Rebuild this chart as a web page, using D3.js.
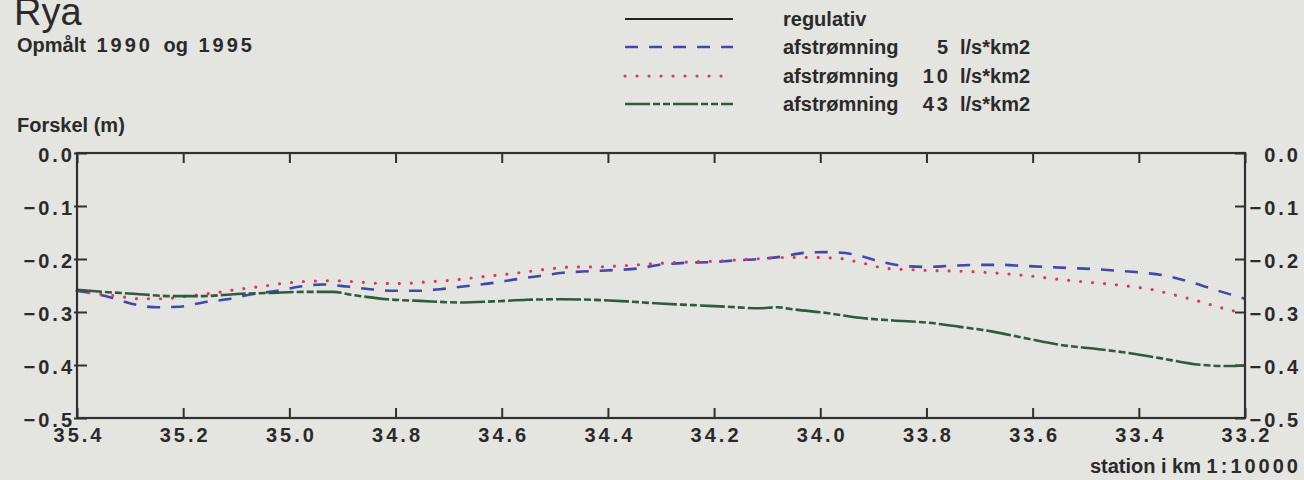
<!DOCTYPE html>
<html><head><meta charset="utf-8">
<script src="https://cdn.jsdelivr.net/npm/d3@7"></script>
<style>
html,body{margin:0;padding:0;background:#e4e4e1;}
svg{display:block;font-family:"Liberation Sans",Arial,sans-serif;}
</style></head><body>
<svg id="c" width="1304" height="480"></svg>
<script>
const titleText = "Rya";
const subtitleParts = ["Opmålt ", "1990", " og ", "1995"];
const yAxisTitle = "Forskel (m)";
const xAxisTitleWord = "station i km ";
const xAxisTitleScale = "1:10000";
const xTicks = [35.4,35.2,35.0,34.8,34.6,34.4,34.2,34.0,33.8,33.6,33.4,33.2];
const xTickLabels = ["35.4","35.2","35.0","34.8","34.6","34.4","34.2","34.0","33.8","33.6","33.4","33.2"];
const yTicks = [0,-0.1,-0.2,-0.3,-0.4,-0.5];
const yTickLabels = ["0.0","\u22120.1","\u22120.2","\u22120.3","\u22120.4","\u22120.5"];
const legendNames = ["regulativ","afstrømning","afstrømning","afstrømning"];
const legendNumbers = ["","5","10","43"];
const legendUnits = ["","l/s*km2","l/s*km2","l/s*km2"];

const regulativ = [[35.4,0],[33.2,0]];
const afstr5 = [[35.400,-0.260],[35.338,-0.272],[35.295,-0.285],[35.249,-0.291],[35.206,-0.290],[35.163,-0.282],[35.117,-0.276],[35.074,-0.267],[35.023,-0.260],[34.980,-0.252],[34.937,-0.248],[34.891,-0.252],[34.848,-0.257],[34.805,-0.260],[34.760,-0.260],[34.716,-0.257],[34.673,-0.252],[34.616,-0.245],[34.571,-0.238],[34.528,-0.232],[34.485,-0.226],[34.434,-0.223],[34.390,-0.221],[34.345,-0.218],[34.302,-0.211],[34.251,-0.207],[34.208,-0.206],[34.164,-0.203],[34.114,-0.200],[34.076,-0.196],[34.025,-0.188],[33.987,-0.187],[33.938,-0.191],[33.890,-0.204],[33.844,-0.213],[33.799,-0.215],[33.756,-0.213],[33.705,-0.211],[33.661,-0.211],[33.618,-0.213],[33.573,-0.215],[33.530,-0.217],[33.486,-0.219],[33.441,-0.222],[33.392,-0.226],[33.347,-0.232],[33.304,-0.243],[33.260,-0.257],[33.200,-0.275]];
const afstr10 = [[35.400,-0.260],[35.325,-0.270],[35.281,-0.275],[35.238,-0.275],[35.193,-0.270],[35.149,-0.265],[35.102,-0.258],[35.055,-0.252],[35.012,-0.246],[34.965,-0.242],[34.920,-0.241],[34.873,-0.243],[34.829,-0.246],[34.786,-0.246],[34.739,-0.243],[34.694,-0.240],[34.650,-0.235],[34.603,-0.230],[34.560,-0.225],[34.513,-0.219],[34.466,-0.215],[34.421,-0.215],[34.377,-0.213],[34.330,-0.210],[34.283,-0.207],[34.198,-0.204],[34.142,-0.201],[34.057,-0.197],[34.010,-0.197],[33.963,-0.199],[33.919,-0.208],[33.874,-0.218],[33.831,-0.220],[33.784,-0.222],[33.737,-0.223],[33.693,-0.225],[33.648,-0.228],[33.605,-0.232],[33.562,-0.237],[33.515,-0.242],[33.469,-0.246],[33.422,-0.251],[33.379,-0.257],[33.332,-0.268],[33.289,-0.279],[33.241,-0.293],[33.212,-0.300]];
const afstr43 = [[35.400,-0.258],[35.351,-0.262],[35.287,-0.266],[35.225,-0.270],[35.163,-0.270],[35.099,-0.266],[35.036,-0.264],[34.974,-0.262],[34.918,-0.262],[34.880,-0.268],[34.816,-0.276],[34.754,-0.279],[34.679,-0.282],[34.616,-0.280],[34.552,-0.277],[34.490,-0.276],[34.428,-0.277],[34.364,-0.280],[34.302,-0.284],[34.240,-0.287],[34.176,-0.290],[34.114,-0.293],[34.081,-0.291],[34.051,-0.295],[33.987,-0.302],[33.925,-0.311],[33.863,-0.316],[33.799,-0.320],[33.737,-0.328],[33.675,-0.337],[33.611,-0.350],[33.548,-0.362],[33.486,-0.369],[33.422,-0.377],[33.360,-0.387],[33.298,-0.398],[33.234,-0.402],[33.200,-0.401]];

const series = [
  {data: regulativ, color:"#222222", width:2.2, dash:null, cap:"butt"},
  {data: afstr5, color:"#4048a8", width:2.6, dash:"13 11", cap:"butt"},
  {data: afstr10, color:"#e0345c", width:3.2, dash:"0 12", cap:"round"},
  {data: afstr43, color:"#2e5a3e", width:2.6, dash:"25 3 7 3 7 3", cap:"butt"}
];

const W=1304,H=480, L=77, R=1245, T=153, B=418;
const TXT="#2a2a2a", LS=3;
const svg = d3.select("#c");
const x = d3.scaleLinear().domain([35.4,33.2]).range([L,R]);
const y = d3.scaleLinear().domain([0,-0.5]).range([T,B]);

// titles
svg.append("text").attr("x",14).attr("y",25).attr("font-size",38).attr("fill",TXT).text(titleText);
const st = svg.append("text").attr("x",17).attr("y",52).attr("font-size",20).attr("font-weight","bold").attr("fill",TXT).attr("word-spacing",5);
subtitleParts.forEach((p,i)=>{ st.append("tspan").attr("letter-spacing", /\d/.test(p)?LS:0).text(p); });
svg.append("text").attr("x",17).attr("y",132).attr("font-size",20).attr("font-weight","bold").attr("fill",TXT).text(yAxisTitle);
const xt = svg.append("text").attr("x",1298+LS).attr("y",473).attr("text-anchor","end").attr("font-size",20).attr("font-weight","bold").attr("fill",TXT);
xt.append("tspan").text(xAxisTitleWord);
xt.append("tspan").attr("letter-spacing",LS).text(xAxisTitleScale);

// axes
function styleAxis(g){
  g.select(".domain").remove();
  g.selectAll(".tick line").attr("stroke","#303030").attr("stroke-width",2);
  g.selectAll(".tick text").attr("fill",TXT).attr("font-size",20).attr("font-weight","bold")
   .attr("font-family",'"Liberation Sans",Arial,sans-serif').attr("letter-spacing",LS);
}
const gb = svg.append("g").attr("transform",`translate(0,${B})`)
  .call(d3.axisBottom(x).tickValues(xTicks).tickSizeInner(-10).tickSizeOuter(0).tickPadding(10)
    .tickFormat((d,i)=>xTickLabels[i]));
styleAxis(gb);
gb.selectAll(".tick text").attr("dx",LS/2);
const gt = svg.append("g").attr("transform",`translate(0,${T})`)
  .call(d3.axisTop(x).tickValues(xTicks).tickSizeInner(-10).tickSizeOuter(0).tickFormat(""));
styleAxis(gt);
const gl = svg.append("g").attr("transform",`translate(${L},0)`)
  .call(d3.axisLeft(y).tickValues(yTicks).tickSizeInner(-10).tickSizeOuter(0).tickPadding(5-LS)
    .tickFormat((d,i)=>yTickLabels[i]));
styleAxis(gl);
gl.selectAll(".tick line").attr("x1",-3);
gl.selectAll(".tick text").attr("dy","0.4em");
const gr = svg.append("g").attr("transform",`translate(${R},0)`)
  .call(d3.axisRight(y).tickValues(yTicks).tickSizeInner(-10).tickSizeOuter(0)
    .tickFormat((d,i)=>yTickLabels[i]));
styleAxis(gr);
gr.selectAll(".tick text").attr("text-anchor","end").attr("x",1298-R+LS).attr("dy","0.4em");

// series
const line = d3.line().x(d=>x(d[0])).y(d=>y(d[1])).curve(d3.curveMonotoneX);
series.forEach(s=>{
  svg.append("path").datum(s.data).attr("d",line).attr("fill","none")
    .attr("stroke",s.color).attr("stroke-width",s.width)
    .attr("stroke-dasharray",s.dash).attr("stroke-linecap",s.cap);
});

// frame
svg.append("rect").attr("x",L).attr("y",T).attr("width",R-L).attr("height",B-T)
  .attr("fill","none").attr("stroke","#303030").attr("stroke-width",2.2);

// legend
const legY = [19,47,76,104];
series.forEach((s,i)=>{
  svg.append("line").attr("x1",625).attr("x2",733).attr("y1",legY[i]).attr("y2",legY[i])
    .attr("stroke",s.color).attr("stroke-width",s.width).attr("stroke-dasharray",s.dash).attr("stroke-linecap",s.cap);
  svg.append("text").attr("x",783).attr("y",legY[i]+7).attr("font-size",20).attr("font-weight","bold").attr("fill",TXT).text(legendNames[i]);
  if(legendNumbers[i]){
    svg.append("text").attr("x",948+LS).attr("y",legY[i]+7).attr("text-anchor","end").attr("letter-spacing",LS)
      .attr("font-size",20).attr("font-weight","bold").attr("fill",TXT).text(legendNumbers[i]);
    svg.append("text").attr("x",960).attr("y",legY[i]+7).attr("font-size",20).attr("font-weight","bold").attr("fill",TXT).text(legendUnits[i]);
  }
});
</script>
</body></html>
